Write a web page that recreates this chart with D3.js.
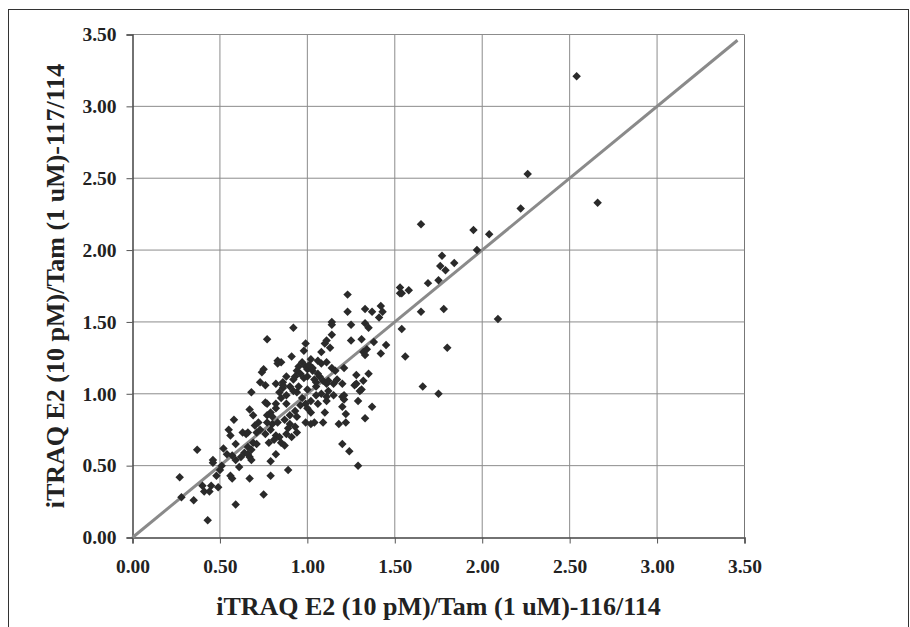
<!DOCTYPE html>
<html>
<head>
<meta charset="utf-8">
<script src="https://cdn.jsdelivr.net/npm/d3@7"></script>
<style>
  html, body { margin: 0; padding: 0; background: #fff; }
  svg { display: block; }
  text { font-family: "Liberation Serif", "Times New Roman", serif; font-weight: bold; fill: #222; }
</style>
</head>
<body>
<script>
// ---- data ----
const xTickValues = [0, 0.5, 1.0, 1.5, 2.0, 2.5, 3.0, 3.5];
const yTickValues = [0, 0.5, 1.0, 1.5, 2.0, 2.5, 3.0, 3.5];
const xTitle = "iTRAQ E2 (10 pM)/Tam (1 uM)-116/114";
const yTitle = "iTRAQ E2 (10 pM)/Tam (1 uM)-117/114";
const diagonalLine = [[0, 0], [3.46, 3.46]];

const ratio116 = [
  2.54,2.26,2.22,2.66,1.65,1.95,2.04,1.97,1.77,1.76,1.79,1.84,1.69,1.75,1.58,1.53,1.53,1.54,1.65,1.78,2.09,1.54,1.56,1.80,1.66,1.75,
  1.33,1.37,1.42,1.43,1.41,1.33,1.35,1.31,1.38,1.45,1.34,1.32,1.33,1.42,1.35,1.32,1.31,1.37,
  1.20,1.27,1.30,1.20,1.21,1.29,1.20,1.22,1.33,1.22,1.18,1.20,1.24,1.29,0.89,1.11,1.10,1.04,1.09,1.11,0.94,
  1.23,1.23,1.14,1.14,1.25,0.92,1.14,1.11,1.10,1.25,0.99,0.98,1.13,1.08,0.91,0.97,1.02,1.06,1.08,1.11,1.14,1.21,0.85,0.86,
  0.94,0.96,0.93,0.98,1.00,1.03,1.06,1.07,1.09,1.12,1.15,1.28,1.28,0.92,0.88,0.86,1.05,1.11,1.21,
  0.77,0.83,0.83,0.75,0.74,0.73,0.76,0.82,0.86,0.68,0.84,
  0.76,0.77,0.82,0.82,0.67,0.69,0.79,0.77,0.80,0.88,0.93,0.90,0.94,0.99,1.00,1.02,0.58,0.72,0.70,0.77,0.80,0.83,0.87,0.90,
  0.89,0.93,0.94,0.99,1.02,0.55,0.56,0.63,0.65,0.66,0.71,0.73,0.76,0.79,0.82,0.84,0.88,0.91,0.78,0.81,0.85,0.87,0.59,0.69,
  0.71,0.66,0.68,0.64,0.66,0.82,0.52,0.54,0.57,0.59,0.62,0.67,0.68,0.79,0.37,0.79,0.67,0.56,0.57,0.46,0.46,0.51,0.50,0.61,
  0.48,0.40,0.45,0.49,0.41,0.44,0.75,
  0.27,0.28,0.35,0.43,0.59,
  0.90,0.95,1.00,1.05,1.08,0.97,1.02,1.06,0.85,0.96,1.04,1.00,0.92,1.12,1.15,1.17,1.16,1.05,0.88,0.95,0.99,1.01,1.03
];
const ratio117 = [
  3.21,2.53,2.29,2.33,2.18,2.14,2.11,2.00,1.96,1.89,1.86,1.91,1.77,1.79,1.72,1.70,1.74,1.70,1.57,1.59,1.52,1.45,1.26,1.32,1.05,1.00,
  1.59,1.57,1.61,1.57,1.53,1.49,1.46,1.38,1.36,1.34,1.31,1.29,1.27,1.28,1.14,1.09,1.03,0.91,
  1.07,1.06,1.02,0.98,0.96,0.95,0.91,0.86,0.83,0.80,0.79,0.65,0.60,0.50,0.47,0.95,0.87,0.80,0.80,1.07,1.01,
  1.69,1.57,1.50,1.48,1.48,1.46,1.41,1.37,1.35,1.37,1.35,1.30,1.32,1.29,1.26,1.22,1.24,1.23,1.21,1.22,1.18,1.18,1.22,1.08,
  1.16,1.14,1.12,1.11,1.17,1.16,1.14,1.12,1.09,1.09,1.07,1.13,1.07,1.02,0.99,1.04,0.99,0.98,0.99,
  1.38,1.23,1.21,1.17,1.15,1.08,1.06,1.07,1.06,1.01,1.01,
  0.94,0.93,0.93,0.90,0.89,0.85,0.87,0.85,0.84,0.93,0.88,0.85,0.84,0.93,0.90,0.87,0.82,0.80,0.78,0.80,0.79,0.80,0.82,0.79,
  0.76,0.77,0.73,0.80,0.79,0.75,0.71,0.73,0.72,0.73,0.73,0.75,0.72,0.75,0.71,0.70,0.72,0.70,0.66,0.68,0.66,0.64,0.65,0.66,
  0.65,0.63,0.61,0.59,0.58,0.58,0.62,0.58,0.57,0.54,0.56,0.56,0.54,0.53,0.61,0.43,0.41,0.43,0.41,0.54,0.52,0.50,0.47,0.49,
  0.43,0.36,0.36,0.35,0.32,0.32,0.30,
  0.42,0.28,0.26,0.12,0.23,
  1.05,1.05,1.03,1.05,1.00,0.97,0.95,0.93,0.97,0.92,1.10,1.12,1.10,1.02,0.99,1.10,1.16,1.08,1.12,1.19,1.19,1.20,1.18
];

// ---- chart ----
const W = 910, H = 627;
const svg = d3.select("body").append("svg").attr("width", W).attr("height", H);

// outer frame
svg.append("rect").attr("x", 8.5).attr("y", 9.5).attr("width", 900).attr("height", 640)
  .attr("fill", "none").attr("stroke", "#333").attr("stroke-width", 1);

const x = d3.scaleLinear().domain([0, 3.5]).range([132.5, 744.5]);
const y = d3.scaleLinear().domain([0, 3.5]).range([537.5, 34.5]);

// grid lines
const grid = svg.append("g");
grid.selectAll("line.v").data(xTickValues.slice(1)).join("line")
  .attr("x1", d => x(d)).attr("x2", d => x(d))
  .attr("y1", y(3.5)).attr("y2", y(0))
  .attr("stroke", d => d === 3.5 ? "#777" : "#8c8c8c").attr("stroke-width", 1);
grid.selectAll("line.h").data(yTickValues.slice(1)).join("line")
  .attr("x1", x(0)).attr("x2", x(3.5))
  .attr("y1", d => y(d)).attr("y2", d => y(d))
  .attr("stroke", "#8c8c8c").attr("stroke-width", 1);

// axes
const fmt = d3.format(".2f");
const xAxis = svg.append("g").attr("transform", `translate(0,${y(0)})`)
  .call(d3.axisBottom(x).tickValues(xTickValues).tickFormat(fmt).tickSize(6).tickPadding(16));
const yAxis = svg.append("g").attr("transform", `translate(${x(0)},0)`)
  .call(d3.axisLeft(y).tickValues(yTickValues).tickFormat(fmt).tickSize(6).tickPadding(10));
[xAxis, yAxis].forEach(a => {
  a.select(".domain").attr("stroke", "#444").attr("stroke-width", 1.5);
  a.selectAll(".tick line").attr("stroke", "#555");
  a.selectAll(".tick text").attr("font-size", 19.5).attr("font-family", "Liberation Serif, serif")
    .attr("font-weight", "bold").attr("fill", "#222");
});

// diagonal line
svg.append("path")
  .attr("d", d3.line().x(d => x(d[0])).y(d => y(d[1]))(diagonalLine))
  .attr("stroke", "#8a8a8a").attr("stroke-width", 3).attr("fill", "none");

// points
const pts = ratio116.map((v, i) => [v, ratio117[i]]);
svg.append("g").selectAll("path").data(pts).join("path")
  .attr("transform", d => `translate(${x(d[0])},${y(d[1])})`)
  .attr("d", d3.symbol().type(d3.symbolDiamond2).size(46))
  .attr("fill", "#2a2a2a");

// axis titles
svg.append("text").attr("x", (x(0) + x(3.5)) / 2).attr("y", 615)
  .attr("text-anchor", "middle").attr("font-size", 26).text(xTitle);
svg.append("text").attr("transform", `translate(64,${(y(0) + y(3.5)) / 2}) rotate(-90)`)
  .attr("text-anchor", "middle").attr("font-size", 26).text(yTitle);
</script>
</body>
</html>
